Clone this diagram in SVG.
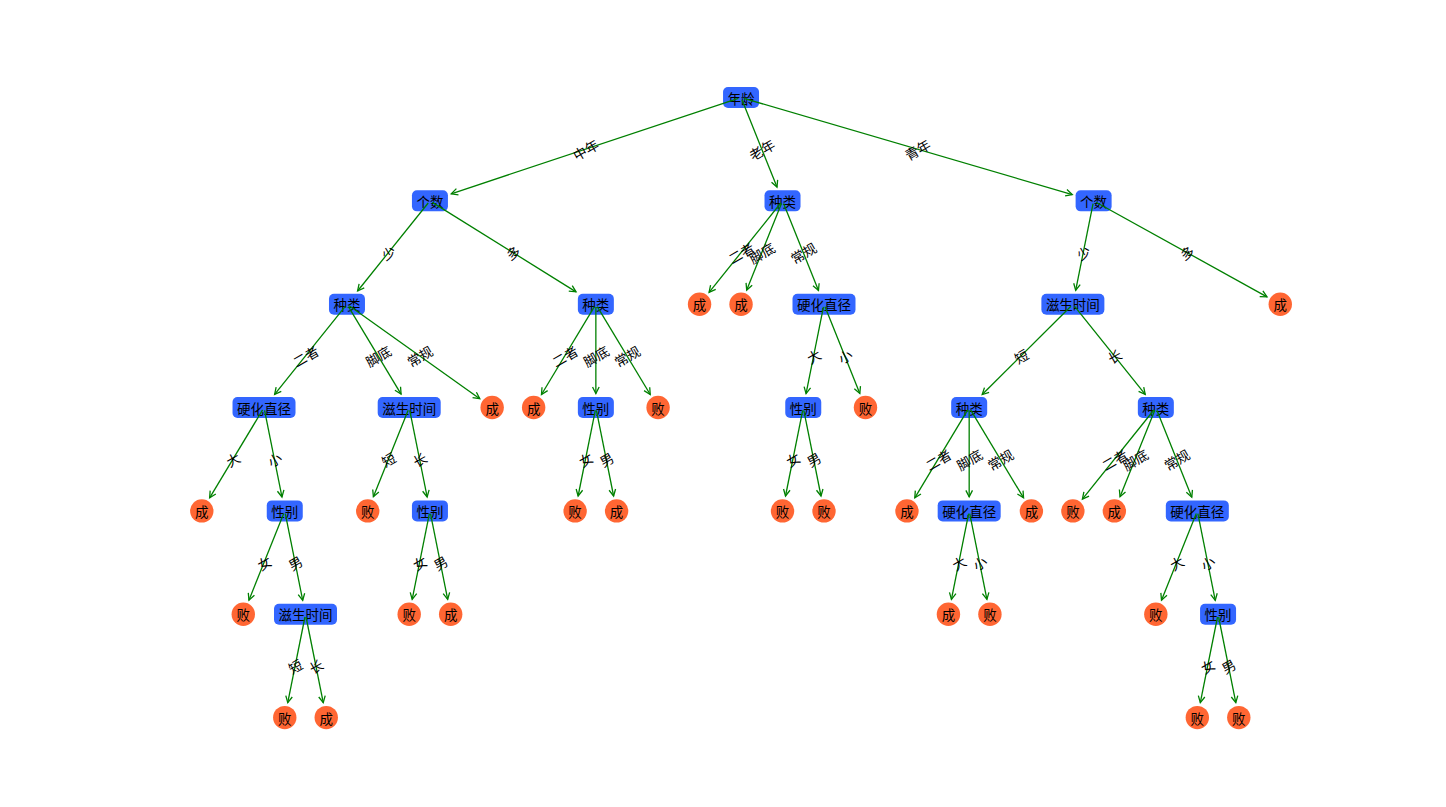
<svg xmlns="http://www.w3.org/2000/svg" width="1446" height="807" viewBox="0 0 1446 807">
<style>
.box{fill:#3366FF}
.leaf{fill:#FF6633}
.t{font-family:"Noto Sans CJK SC","Noto Sans CJK JP",sans-serif;font-size:13.5px;text-anchor:middle;dominant-baseline:central;fill:#000}
.e{stroke:#008000;stroke-width:1.3;fill:none;marker-end:url(#ah)}
</style>
<defs>
<marker id="ah" markerUnits="userSpaceOnUse" markerWidth="10" markerHeight="12" viewBox="-8 -6 10 12" refX="0" refY="0" orient="auto" overflow="visible">
<path d="M-6.5,-3.3 L0,0 L-6.5,3.3" fill="none" stroke="#008000" stroke-width="1.3"/>
</marker>
</defs>
<rect width="1446" height="807" fill="#fff"/>
<g id="nodes">
<g id="n_root"><rect class="box" x="723.04" y="87" width="36" height="21" rx="5"/><text class="t" x="741.04" y="97.5">年龄</text></g>
<g id="n_a"><rect class="box" x="411.94" y="190.35" width="36" height="21" rx="5"/><text class="t" x="429.94" y="200.85">个数</text></g>
<g id="n_b"><rect class="box" x="764.52" y="190.35" width="36" height="21" rx="5"/><text class="t" x="782.52" y="200.85">种类</text></g>
<g id="n_c"><rect class="box" x="1075.62" y="190.35" width="36" height="21" rx="5"/><text class="t" x="1093.62" y="200.85">个数</text></g>
<g id="n_a1"><rect class="box" x="328.98" y="293.7" width="36" height="21" rx="5"/><text class="t" x="346.98" y="304.2">种类</text></g>
<g id="n_a2"><rect class="box" x="577.86" y="293.7" width="36" height="21" rx="5"/><text class="t" x="595.86" y="304.2">种类</text></g>
<g id="n_b1"><circle class="leaf" cx="699.56" cy="304.2" r="11.7"/><text class="t" x="699.56" y="304.2">成</text></g>
<g id="n_b2"><circle class="leaf" cx="741.04" cy="304.2" r="11.7"/><text class="t" x="741.04" y="304.2">成</text></g>
<g id="n_b3"><rect class="box" x="792.5" y="293.7" width="63" height="21" rx="5"/><text class="t" x="824" y="304.2">硬化直径</text></g>
<g id="n_c1"><rect class="box" x="1041.38" y="293.7" width="63" height="21" rx="5"/><text class="t" x="1072.88" y="304.2">滋生时间</text></g>
<g id="n_c2"><circle class="leaf" cx="1280.28" cy="304.2" r="11.7"/><text class="t" x="1280.28" y="304.2">成</text></g>
<g id="n_a1a"><rect class="box" x="232.52" y="397.05" width="63" height="21" rx="5"/><text class="t" x="264.02" y="407.55">硬化直径</text></g>
<g id="n_a1b"><rect class="box" x="377.7" y="397.05" width="63" height="21" rx="5"/><text class="t" x="409.2" y="407.55">滋生时间</text></g>
<g id="n_a1c"><circle class="leaf" cx="492.16" cy="407.55" r="11.7"/><text class="t" x="492.16" y="407.55">成</text></g>
<g id="n_a2a"><circle class="leaf" cx="533.64" cy="407.55" r="11.7"/><text class="t" x="533.64" y="407.55">成</text></g>
<g id="n_a2b"><rect class="box" x="577.86" y="397.05" width="36" height="21" rx="5"/><text class="t" x="595.86" y="407.55">性别</text></g>
<g id="n_a2c"><circle class="leaf" cx="658.08" cy="407.55" r="11.7"/><text class="t" x="658.08" y="407.55">败</text></g>
<g id="n_b3a"><rect class="box" x="785.26" y="397.05" width="36" height="21" rx="5"/><text class="t" x="803.26" y="407.55">性别</text></g>
<g id="n_b3b"><circle class="leaf" cx="865.48" cy="407.55" r="11.7"/><text class="t" x="865.48" y="407.55">败</text></g>
<g id="n_c1a"><rect class="box" x="951.18" y="397.05" width="36" height="21" rx="5"/><text class="t" x="969.18" y="407.55">种类</text></g>
<g id="n_c1b"><rect class="box" x="1137.84" y="397.05" width="36" height="21" rx="5"/><text class="t" x="1155.84" y="407.55">种类</text></g>
<g id="n_l4_0"><circle class="leaf" cx="201.8" cy="510.9" r="11.7"/><text class="t" x="201.8" y="510.9">成</text></g>
<g id="n_l4_1"><rect class="box" x="266.76" y="500.4" width="36" height="21" rx="5"/><text class="t" x="284.76" y="510.9">性别</text></g>
<g id="n_l4_2"><circle class="leaf" cx="367.72" cy="510.9" r="11.7"/><text class="t" x="367.72" y="510.9">败</text></g>
<g id="n_l4_3"><rect class="box" x="411.94" y="500.4" width="36" height="21" rx="5"/><text class="t" x="429.94" y="510.9">性别</text></g>
<g id="n_l4_4"><circle class="leaf" cx="575.12" cy="510.9" r="11.7"/><text class="t" x="575.12" y="510.9">败</text></g>
<g id="n_l4_5"><circle class="leaf" cx="616.6" cy="510.9" r="11.7"/><text class="t" x="616.6" y="510.9">成</text></g>
<g id="n_l4_6"><circle class="leaf" cx="782.52" cy="510.9" r="11.7"/><text class="t" x="782.52" y="510.9">败</text></g>
<g id="n_l4_7"><circle class="leaf" cx="824" cy="510.9" r="11.7"/><text class="t" x="824" y="510.9">败</text></g>
<g id="n_l4_8"><circle class="leaf" cx="906.96" cy="510.9" r="11.7"/><text class="t" x="906.96" y="510.9">成</text></g>
<g id="n_l4_9"><rect class="box" x="937.68" y="500.4" width="63" height="21" rx="5"/><text class="t" x="969.18" y="510.9">硬化直径</text></g>
<g id="n_l4_10"><circle class="leaf" cx="1031.4" cy="510.9" r="11.7"/><text class="t" x="1031.4" y="510.9">成</text></g>
<g id="n_l4_11"><circle class="leaf" cx="1072.88" cy="510.9" r="11.7"/><text class="t" x="1072.88" y="510.9">败</text></g>
<g id="n_l4_12"><circle class="leaf" cx="1114.36" cy="510.9" r="11.7"/><text class="t" x="1114.36" y="510.9">成</text></g>
<g id="n_l4_13"><rect class="box" x="1165.82" y="500.4" width="63" height="21" rx="5"/><text class="t" x="1197.32" y="510.9">硬化直径</text></g>
<g id="n_l5_0"><circle class="leaf" cx="243.28" cy="614.25" r="11.7"/><text class="t" x="243.28" y="614.25">败</text></g>
<g id="n_l5_1"><rect class="box" x="274" y="603.75" width="63" height="21" rx="5"/><text class="t" x="305.5" y="614.25">滋生时间</text></g>
<g id="n_l5_2"><circle class="leaf" cx="409.2" cy="614.25" r="11.7"/><text class="t" x="409.2" y="614.25">败</text></g>
<g id="n_l5_3"><circle class="leaf" cx="450.68" cy="614.25" r="11.7"/><text class="t" x="450.68" y="614.25">成</text></g>
<g id="n_l5_4"><circle class="leaf" cx="948.44" cy="614.25" r="11.7"/><text class="t" x="948.44" y="614.25">成</text></g>
<g id="n_l5_5"><circle class="leaf" cx="989.92" cy="614.25" r="11.7"/><text class="t" x="989.92" y="614.25">败</text></g>
<g id="n_l5_6"><circle class="leaf" cx="1155.84" cy="614.25" r="11.7"/><text class="t" x="1155.84" y="614.25">败</text></g>
<g id="n_l5_7"><rect class="box" x="1200.06" y="603.75" width="36" height="21" rx="5"/><text class="t" x="1218.06" y="614.25">性别</text></g>
<g id="n_l6_0"><circle class="leaf" cx="284.76" cy="717.6" r="11.7"/><text class="t" x="284.76" y="717.6">败</text></g>
<g id="n_l6_1"><circle class="leaf" cx="326.24" cy="717.6" r="11.7"/><text class="t" x="326.24" y="717.6">成</text></g>
<g id="n_l6_2"><circle class="leaf" cx="1197.32" cy="717.6" r="11.7"/><text class="t" x="1197.32" y="717.6">败</text></g>
<g id="n_l6_3"><circle class="leaf" cx="1238.8" cy="717.6" r="11.7"/><text class="t" x="1238.8" y="717.6">败</text></g>
</g>
<g id="connectors">
<path class="e" d="M738.38,98.38 L451.26,193.77"/>
<path class="e" d="M742.08,100.1 L777,187.1"/>
<path class="e" d="M743.73,98.29 L1072.26,194.59"/>
<path class="e" d="M428.19,203.03 L357.6,290.97"/>
<path class="e" d="M432.32,202.33 L576.03,291.85"/>
<path class="e" d="M345.23,306.38 L274.64,394.32"/>
<path class="e" d="M348.42,306.6 L401.07,394.05"/>
<path class="e" d="M349.26,305.82 L479.78,398.74"/>
<path class="e" d="M262.58,409.95 L209.64,497.88"/>
<path class="e" d="M264.57,410.3 L281.96,496.97"/>
<path class="e" d="M283.72,513.5 L248.94,600.14"/>
<path class="e" d="M285.31,513.65 L302.7,600.32"/>
<path class="e" d="M304.95,617 L287.75,702.7"/>
<path class="e" d="M306.05,617 L323.25,702.7"/>
<path class="e" d="M408.16,410.15 L373.38,496.79"/>
<path class="e" d="M409.75,410.3 L427.14,496.97"/>
<path class="e" d="M429.39,513.65 L412.19,599.35"/>
<path class="e" d="M430.49,513.65 L447.69,599.35"/>
<path class="e" d="M594.42,306.6 L541.48,394.53"/>
<path class="e" d="M595.86,307 L595.86,393.55"/>
<path class="e" d="M597.3,306.6 L650.24,394.53"/>
<path class="e" d="M595.31,410.3 L578.11,496"/>
<path class="e" d="M596.41,410.3 L613.61,496"/>
<path class="e" d="M780.77,203.03 L709.08,292.35"/>
<path class="e" d="M781.48,203.45 L746.7,290.09"/>
<path class="e" d="M783.56,203.45 L818.48,290.45"/>
<path class="e" d="M823.45,306.95 L806.06,393.62"/>
<path class="e" d="M825.04,306.8 L859.82,393.44"/>
<path class="e" d="M802.71,410.3 L785.51,496"/>
<path class="e" d="M803.81,410.3 L821.01,496"/>
<path class="e" d="M1093.07,203.6 L1075.68,290.27"/>
<path class="e" d="M1096.07,202.21 L1266.98,296.84"/>
<path class="e" d="M1070.9,306.18 L982.19,394.58"/>
<path class="e" d="M1074.63,306.38 L1145.22,394.32"/>
<path class="e" d="M967.74,409.95 L914.8,497.88"/>
<path class="e" d="M969.18,410.35 L969.18,496.9"/>
<path class="e" d="M970.62,409.95 L1023.56,497.88"/>
<path class="e" d="M968.63,513.65 L951.43,599.35"/>
<path class="e" d="M969.73,513.65 L986.93,599.35"/>
<path class="e" d="M1154.09,409.73 L1082.4,499.05"/>
<path class="e" d="M1154.8,410.15 L1120.02,496.79"/>
<path class="e" d="M1156.88,410.15 L1191.8,497.15"/>
<path class="e" d="M1196.28,513.5 L1161.5,600.14"/>
<path class="e" d="M1197.87,513.65 L1215.26,600.32"/>
<path class="e" d="M1217.51,617 L1200.31,702.7"/>
<path class="e" d="M1218.61,617 L1235.81,702.7"/>
<g id="edge-labels">
<text class="t" transform="translate(585.49,149.18) rotate(-30)">中年</text>
<text class="t" transform="translate(761.78,149.18) rotate(-30)">老年</text>
<text class="t" transform="translate(917.33,149.18) rotate(-30)">青年</text>
<text class="t" transform="translate(388.46,252.53) rotate(-30)">少</text>
<text class="t" transform="translate(512.9,252.53) rotate(-30)">多</text>
<text class="t" transform="translate(305.5,355.88) rotate(-30)">二者</text>
<text class="t" transform="translate(378.09,355.88) rotate(-30)">脚底</text>
<text class="t" transform="translate(419.57,355.88) rotate(-30)">常规</text>
<text class="t" transform="translate(232.91,459.23) rotate(-30)">大</text>
<text class="t" transform="translate(274.39,459.23) rotate(-30)">小</text>
<text class="t" transform="translate(264.02,562.58) rotate(-30)">女</text>
<text class="t" transform="translate(295.13,562.58) rotate(-30)">男</text>
<text class="t" transform="translate(295.13,665.93) rotate(-30)">短</text>
<text class="t" transform="translate(315.87,665.93) rotate(-30)">长</text>
<text class="t" transform="translate(388.46,459.23) rotate(-30)">短</text>
<text class="t" transform="translate(419.57,459.23) rotate(-30)">长</text>
<text class="t" transform="translate(419.57,562.58) rotate(-30)">女</text>
<text class="t" transform="translate(440.31,562.58) rotate(-30)">男</text>
<text class="t" transform="translate(564.75,355.88) rotate(-30)">二者</text>
<text class="t" transform="translate(595.86,355.88) rotate(-30)">脚底</text>
<text class="t" transform="translate(626.97,355.88) rotate(-30)">常规</text>
<text class="t" transform="translate(585.49,459.23) rotate(-30)">女</text>
<text class="t" transform="translate(606.23,459.23) rotate(-30)">男</text>
<text class="t" transform="translate(741.04,252.53) rotate(-30)">二者</text>
<text class="t" transform="translate(761.78,252.53) rotate(-30)">脚底</text>
<text class="t" transform="translate(803.26,252.53) rotate(-30)">常规</text>
<text class="t" transform="translate(813.63,355.88) rotate(-30)">大</text>
<text class="t" transform="translate(844.74,355.88) rotate(-30)">小</text>
<text class="t" transform="translate(792.89,459.23) rotate(-30)">女</text>
<text class="t" transform="translate(813.63,459.23) rotate(-30)">男</text>
<text class="t" transform="translate(1083.25,252.53) rotate(-30)">少</text>
<text class="t" transform="translate(1186.95,252.53) rotate(-30)">多</text>
<text class="t" transform="translate(1021.03,355.88) rotate(-30)">短</text>
<text class="t" transform="translate(1114.36,355.88) rotate(-30)">长</text>
<text class="t" transform="translate(938.07,459.23) rotate(-30)">二者</text>
<text class="t" transform="translate(969.18,459.23) rotate(-30)">脚底</text>
<text class="t" transform="translate(1000.29,459.23) rotate(-30)">常规</text>
<text class="t" transform="translate(958.81,562.58) rotate(-30)">大</text>
<text class="t" transform="translate(979.55,562.58) rotate(-30)">小</text>
<text class="t" transform="translate(1114.36,459.23) rotate(-30)">二者</text>
<text class="t" transform="translate(1135.1,459.23) rotate(-30)">脚底</text>
<text class="t" transform="translate(1176.58,459.23) rotate(-30)">常规</text>
<text class="t" transform="translate(1176.58,562.58) rotate(-30)">大</text>
<text class="t" transform="translate(1207.69,562.58) rotate(-30)">小</text>
<text class="t" transform="translate(1207.69,665.93) rotate(-30)">女</text>
<text class="t" transform="translate(1228.43,665.93) rotate(-30)">男</text>
</g>
</g>
</svg>
